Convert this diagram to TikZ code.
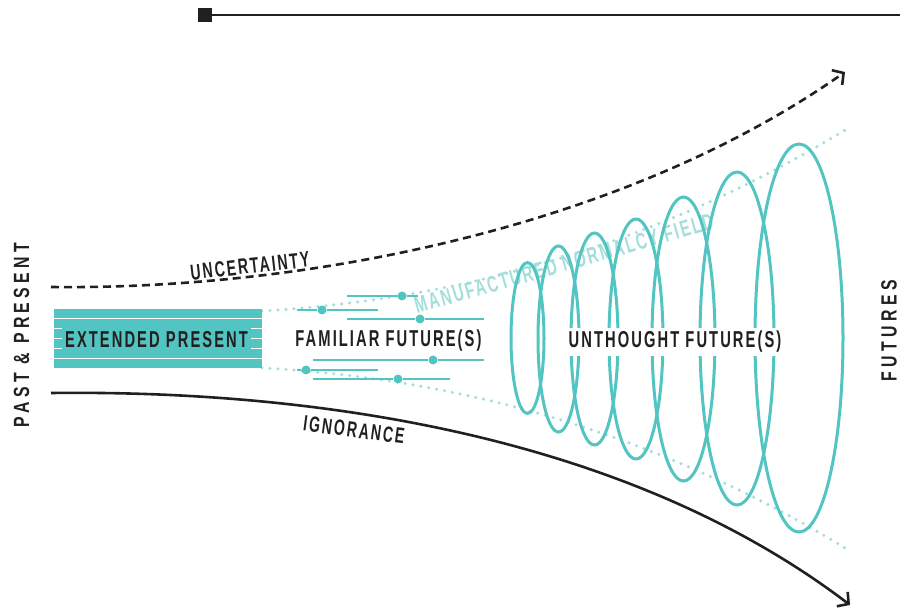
\documentclass[tikz,border=0pt]{standalone}
\usepackage{fontspec}
\setmainfont{Liberation Sans}
\newfontfamily\dinfont{Liberation Sans Bold}[FakeStretch=0.64,LetterSpace=9]
\newfontfamily\dinwide{Liberation Sans Bold}[FakeStretch=0.72,LetterSpace=20]
\usetikzlibrary{arrows.meta,shapes.geometric}
\definecolor{tealmain}{HTML}{52C4C1}
\definecolor{teallight}{HTML}{A3DEDB}
\definecolor{ink}{HTML}{231F20}
\begin{document}
\begin{tikzpicture}[x=1pt,y=-1pt,
  lbl/.style={font=\dinfont\fontsize{23}{23}\selectfont, text=ink, inner sep=0pt},
  smalllbl/.style={font=\dinfont\fontsize{22}{22}\selectfont, text=ink, inner sep=0pt},
  sidelbl/.style={font=\dinwide\fontsize{22}{22}\selectfont, text=ink, inner sep=0pt, rotate=90},
  fieldlbl/.style={font=\dinfont\fontsize{23}{23}\selectfont, text=teallight, inner sep=0pt, rotate=16, anchor=base west},
  arr/.style={line width=2.6pt, draw=ink, -{Straight Barb[length=8pt,width=18pt]}},
  dashedarr/.style={arr, dash pattern=on 8pt off 5pt},
  dotl/.style={draw=teallight, line width=3.4pt, line cap=round, dash pattern=on 0pt off 8pt},
  ell/.style={ellipse, draw=tealmain, line width=3pt, inner sep=0pt},
  famline/.style={draw=tealmain, line width=2.5pt},
  famdot/.style={circle, fill=tealmain, minimum size=9pt, inner sep=0pt},
  stripe/.style={draw=white, line width=1.6pt}]
\useasboundingbox (0,0) rectangle (900,612);

% top timeline
\node[fill=ink, minimum size=14pt, inner sep=0pt] (sq) at (205,15) {};
\coordinate (topend) at (900,15);
\draw[line width=2pt, draw=ink] (sq) -- (topend);

% side labels
\node[sidelbl] (past) at (21.5,335) {PAST \& PRESENT};
\node[sidelbl] (fut) at (889,331) {FUTURES};

% manufactured normalcy field (dotted guides + label)
\coordinate (dtA) at (262,311);
\coordinate (dtB) at (850,127);
\coordinate (dbA) at (262,368);
\coordinate (dbB) at (850,551);
\draw[dotl] (dtA) .. controls (450,300) and (650,250) .. (dtB);
\draw[dotl] (dbA) .. controls (450,378) and (650,428) .. (dbB);
\node[fieldlbl] (field) at (417,314) {MANUFACTURED NORMALCY FIELD};

% uncertainty and ignorance
\coordinate (uA) at (51,287);
\coordinate (uB) at (845,72);
\coordinate (iA) at (51,393);
\coordinate (iB) at (850,605);
\draw[dashedarr] (uA) .. controls (300,290) and (620,230) .. (uB);
\draw[arr] (iA) .. controls (300,390) and (620,430) .. (iB);
\node[smalllbl, rotate=6.5] (unc) at (250,266) {UNCERTAINTY};
\node[smalllbl, rotate=-7.5] (ign) at (354,430) {IGNORANCE};

% extended present
\node[fill=tealmain, minimum width=208pt, minimum height=59pt, inner sep=0pt] (ep) at (158,338.5) {};
\draw[stripe] (54,318.5) -- (262,318.5);
\draw[stripe] (54,328.5) -- (262,328.5);
\draw[stripe] (54,338.5) -- (262,338.5);
\draw[stripe] (54,348.5) -- (262,348.5);
\draw[stripe] (54,358.5) -- (262,358.5);
\node[lbl, fill=tealmain, inner xsep=3pt, inner ysep=4pt, anchor=base] (eptext) at (156.5,348) {EXTENDED PRESENT};

% familiar futures
\node[famdot] (fa) at (402,296) {};
\node[famdot] (fb) at (322,310) {};
\node[famdot] (fc) at (420,319) {};
\node[famdot] (fd) at (433,360) {};
\node[famdot] (fe) at (306,370) {};
\node[famdot] (ff) at (398,379) {};
\draw[famline] (347,296) -- (fa) -- (418,296);
\draw[famline] (297,310) -- (fb) -- (378,310);
\draw[famline] (347,319) -- (fc) -- (484,319);
\draw[famline] (313,360) -- (fd) -- (484,360);
\draw[famline] (297,370) -- (fe) -- (378,370);
\draw[famline] (313,379) -- (ff) -- (450,379);
\node[lbl, anchor=base] (famtext) at (388.5,347) {FAMILIAR FUTURE(S)};

% unthought futures
\node[ell, minimum width=33pt, minimum height=151pt] (e1) at (527.5,338) {};
\node[ell, minimum width=41pt, minimum height=186pt] (e2) at (558.5,339) {};
\node[ell, minimum width=47pt, minimum height=212pt] (e3) at (594.5,339) {};
\node[ell, minimum width=54pt, minimum height=240pt] (e4) at (636,339) {};
\node[ell, minimum width=63pt, minimum height=284pt] (e5) at (683.5,339) {};
\node[ell, minimum width=74pt, minimum height=333pt] (e6) at (737,338.5) {};
\node[ell, minimum width=88pt, minimum height=388pt] (e7) at (799,338) {};
\node[lbl, fill=white, inner xsep=2pt, inner ysep=3pt, anchor=base] (untext) at (675,348) {UNTHOUGHT FUTURE(S)};
\end{tikzpicture}
\end{document}
